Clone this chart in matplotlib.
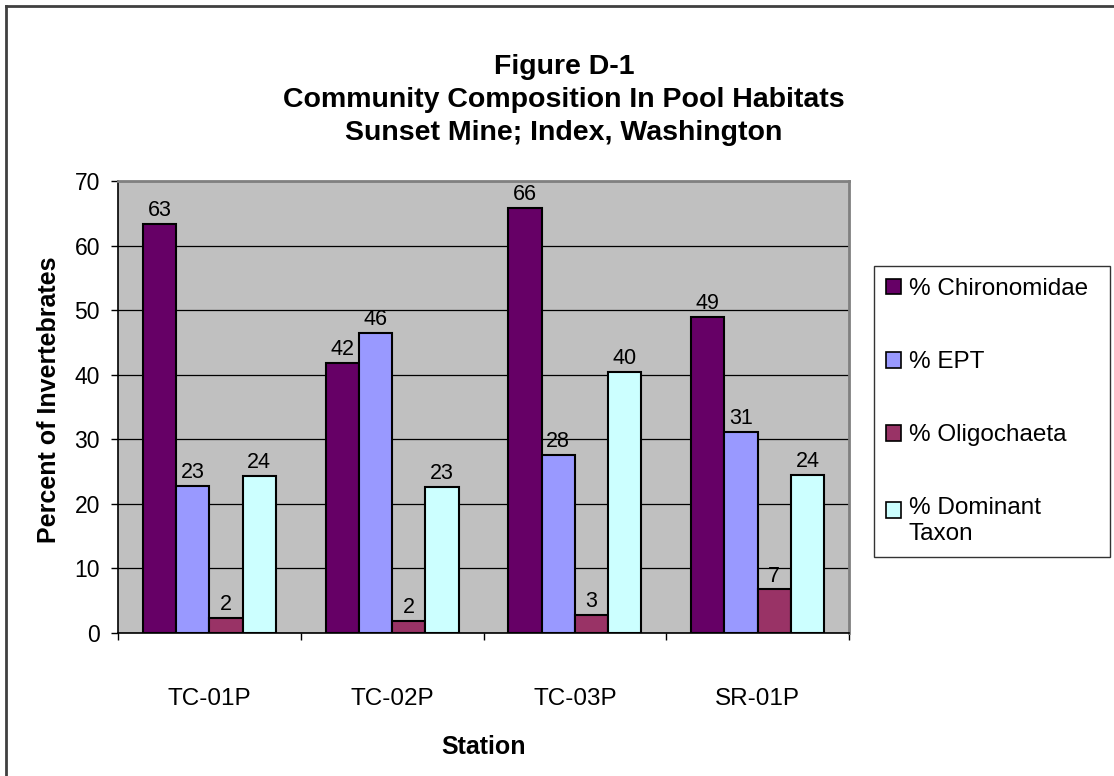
import numpy as np
import matplotlib
matplotlib.use("Agg")
from matplotlib import pyplot as plt
from matplotlib.lines import Line2D

plt.rcParams['font.family'] = ['Liberation Sans', 'DejaVu Sans']

stations = ['TC-01P', 'TC-02P', 'TC-03P', 'SR-01P']
series_names = ['% Chironomidae', '% EPT', '% Oligochaeta', '% Dominant\nTaxon']
chironomidae = [63.3, 41.8, 65.8, 48.9]
ept = [22.7, 46.5, 27.5, 31.1]
oligochaeta = [2.3, 1.8, 2.7, 6.7]
dominant_taxon = [24.3, 22.6, 40.4, 24.4]
colors = ['#660066', '#9999FF', '#993366', '#CCFFFF']

fig = plt.figure(figsize=(11.14, 7.76), dpi=100)
ax = fig.add_axes([118 / 1114, 1 - 632.7 / 776, 731 / 1114, 451.7 / 776])
ax.set_facecolor('#C0C0C0')

x = np.arange(len(stations))
width = 0.182
all_series = [chironomidae, ept, oligochaeta, dominant_taxon]
for i, (vals, name, col) in enumerate(zip(all_series, series_names, colors)):
    bars = ax.bar(x + (i - 1.5) * width, vals, width, color=col,
                  edgecolor='black', linewidth=1.5, label=name, zorder=3)
    for b, v in zip(bars, vals):
        ax.annotate(f'{v:.0f}', (b.get_x() + b.get_width() / 2, v),
                    xytext=(0, 2), textcoords='offset points',
                    ha='center', va='bottom', fontsize=15.5, zorder=4)

ax.set_xlim(-0.5, 3.5)
ax.set_ylim(0, 70)
ax.set_yticks(range(0, 71, 10))
ax.yaxis.grid(True, color='black', linewidth=0.9, zorder=1)
ax.tick_params(axis='y', direction='out', length=5, width=1, pad=8,
               labelsize=16.5)

# category boundaries get the tick marks, centers get the names
ax.set_xticks(np.arange(-0.5, 4.0, 1.0))
ax.set_xticklabels([])
ax.set_xticks(x, minor=True)
ax.set_xticklabels(stations, minor=True)
ax.tick_params(axis='x', which='major', direction='out', length=5, width=1)
ax.tick_params(axis='x', which='minor', length=0, pad=40, labelsize=17.5)

for side in ['left', 'bottom']:
    ax.spines[side].set_color('black')
    ax.spines[side].set_linewidth(1.2)
for side in ['top', 'right']:
    ax.spines[side].set_color('#808080')
    ax.spines[side].set_linewidth(2)

ax.set_xlabel('Station', fontsize=18, fontweight='bold')
ax.xaxis.set_label_coords(0.5, -0.226)
ax.set_ylabel('Percent of Invertebrates', fontsize=18, fontweight='bold')
ax.yaxis.set_label_coords(-0.078, 0.515)

fig.text(564 / 1114, 1 - 100 / 776,
         'Figure D-1\nCommunity Composition In Pool Habitats\nSunset Mine; Index, Washington',
         ha='center', va='center', ma='center', fontsize=20.5,
         fontweight='bold', linespacing=1.36)

leg = ax.legend(loc='upper left',
                bbox_to_anchor=(874 / 1114, 0.2, 236 / 1114, 1 - 266 / 776 - 0.2),
                bbox_transform=fig.transFigure, mode='expand',
                fontsize=17.5, frameon=True, fancybox=False, borderpad=0.5,
                labelspacing=2.1, handlelength=0.62, handleheight=0.62,
                handletextpad=0.3, borderaxespad=0)
leg.get_frame().set_edgecolor('black')
leg.get_frame().set_linewidth(1.0)
for h in leg.legend_handles:
    h.set_linewidth(1.2)
# two-line entry: keep its swatch level with the first line
last = leg.legend_handles[-1]
last.set_y(last.get_y() + 8)

# chart area border (left and top edges fall inside the image)
fig.add_artist(Line2D([6 / 1114, 6 / 1114], [0, 1 - 6 / 776],
                      transform=fig.transFigure, color='#404040', linewidth=2))
fig.add_artist(Line2D([6 / 1114, 1], [1 - 6 / 776, 1 - 6 / 776],
                      transform=fig.transFigure, color='#404040', linewidth=2))

fig.savefig('out.png', dpi=100)
